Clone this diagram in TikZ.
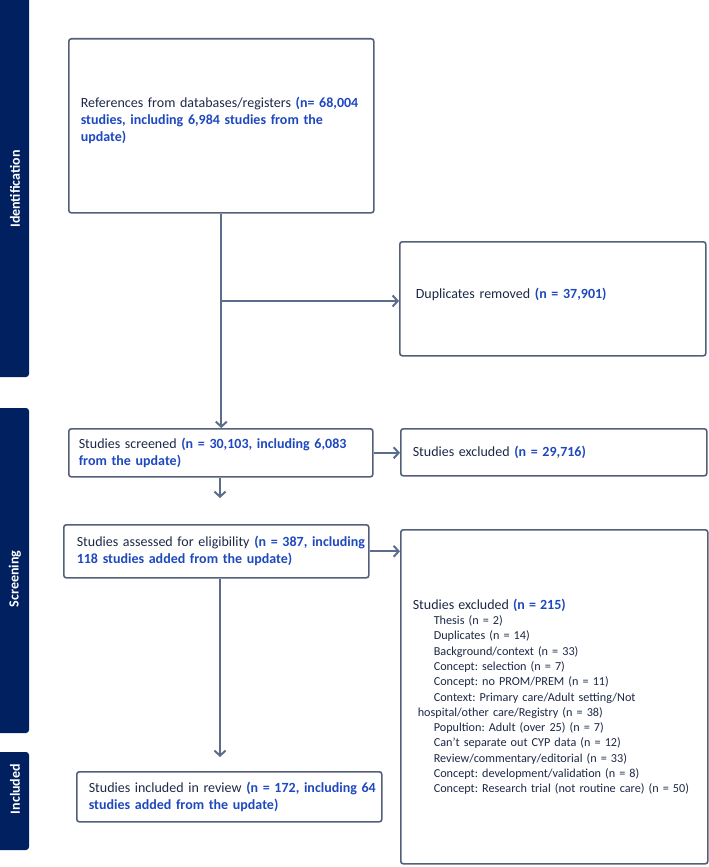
\documentclass[tikz,border=0pt]{standalone}
\usepackage{fontspec}
\setmainfont{Carlito}
\usetikzlibrary{arrows.meta}
\frenchspacing

\definecolor{navy}{RGB}{0,32,96}
\definecolor{boxline}{RGB}{83,96,121}
\definecolor{arrowcol}{RGB}{91,108,140}
\definecolor{textcol}{RGB}{28,40,70}
\definecolor{numblue}{RGB}{30,72,190}
\newcommand{\num}[1]{\textbf{\color{numblue}#1}}

\tikzset{
  stepbox/.style={draw=boxline, line width=1.6pt, rounded corners=2.5pt,
    anchor=north west, align=left, inner ysep=0pt, text=textcol,
    font=\fontsize{14}{17}\selectfont},
  flow/.style={draw=arrowcol, line width=2pt,
    -{Straight Barb[length=5pt,width=11pt]}},
  phase/.style={fill=navy, rounded corners=3pt},
  phaselabel/.style={text=white, rotate=90,
    font=\bfseries\fontsize{14}{17}\selectfont},
}

\begin{document}
\begin{tikzpicture}[x=1pt,y=-1pt]
\useasboundingbox (0,0) rectangle (709,867);

\fill[phase] (-5,-5) rectangle (29,377);
\fill[phase] (-5,408) rectangle (29,733);
\fill[phase] (-5,752) rectangle (29,850);
\node[phaselabel] (identlabel) at (15,189) {Identification};
\node[phaselabel] (screenlabel) at (15,579) {Screening};
\node[phaselabel] (inclabel) at (15,789) {Included};

\node[stepbox, inner xsep=12pt, text width=281pt, minimum width=305pt,
  minimum height=174pt] (refs) at (68,38)%
{\mbox{References from databases/registers \num{(n= 68,004}}\\
\mbox{\num{studies, including 6,984 studies from the}}\\
\mbox{\num{update)}}\\[-5pt]\mbox{}};

\node[stepbox, inner xsep=16pt, text width=274pt, minimum width=306pt,
  minimum height=114pt] (dup) at (399,241)%
{\mbox{Duplicates removed \num{(n = 37,901)}}\\[-7pt]\mbox{}};

\node[stepbox, inner xsep=10pt, text width=284pt, minimum width=304pt,
  minimum height=48pt] (screened) at (68,428)%
{\mbox{Studies screened \num{(n = 30,103, including 6,083}}\\
\mbox{\num{from the update)}}};

\node[stepbox, inner xsep=12pt, text width=282pt, minimum width=306pt,
  minimum height=47pt] (excl1) at (400,428)%
{\mbox{Studies excluded \num{(n = 29,716)}}};

\node[stepbox, inner xsep=13pt, text width=279pt, minimum width=305pt,
  minimum height=53pt] (assessed) at (63,524)%
{\mbox{Studies assessed for eligibility \num{(n = 387, including}}\\
\mbox{\num{118 studies added from the update)}}};

\node[stepbox, inner xsep=12pt, text width=283pt, minimum width=307pt,
  minimum height=334pt, font=\fontsize{12.2}{15.3}\selectfont] (excl2) at (400,529)%
{\mbox{\fontsize{14}{15.3}\selectfont Studies excluded \num{(n = 215)}}\\
\mbox{\hspace*{21pt}Thesis (n = 2)}\\
\mbox{\hspace*{21pt}Duplicates (n = 14)}\\
\mbox{\hspace*{21pt}Background/context (n = 33)}\\
\mbox{\hspace*{21pt}Concept: selection (n = 7)}\\
\mbox{\hspace*{21pt}Concept: no PROM/PREM (n = 11)}\\
\mbox{\hspace*{21pt}Context: Primary care/Adult setting/Not}\\
\mbox{\hspace*{5pt}hospital/other care/Registry (n = 38)}\\
\mbox{\hspace*{21pt}Popultion: Adult (over 25) (n = 7)}\\
\mbox{\hspace*{21pt}Can't separate out CYP data (n = 12)}\\
\mbox{\hspace*{21pt}Review/commentary/editorial (n = 33)}\\
\mbox{\hspace*{21pt}Concept: development/validation (n = 8)}\\
\mbox{\hspace*{21pt}Concept: Research trial (not routine care) (n = 50)}};

\node[stepbox, inner xsep=12pt, text width=281pt, minimum width=305pt,
  minimum height=50pt] (included) at (76,771)%
{\mbox{Studies included in review \num{(n = 172, including 64}}\\
\mbox{\num{studies added from the update)}}};

\coordinate (gapone) at (220,498);
\coordinate (gaptwo) at (220,757);

\draw[flow] (refs.south) -- (refs.south |- screened.north);
\draw[flow] (refs.south |- 0,301) -- (dup.west |- 0,301);
\draw[flow] (screened.east) -- (screened.east -| excl1.west);
\draw[flow] (gapone |- screened.south) -- (gapone);
\draw[flow] (assessed.east) -- (assessed.east -| excl2.west);
\draw[flow] (gaptwo |- assessed.south) -- (gaptwo);

\end{tikzpicture}
\end{document}
